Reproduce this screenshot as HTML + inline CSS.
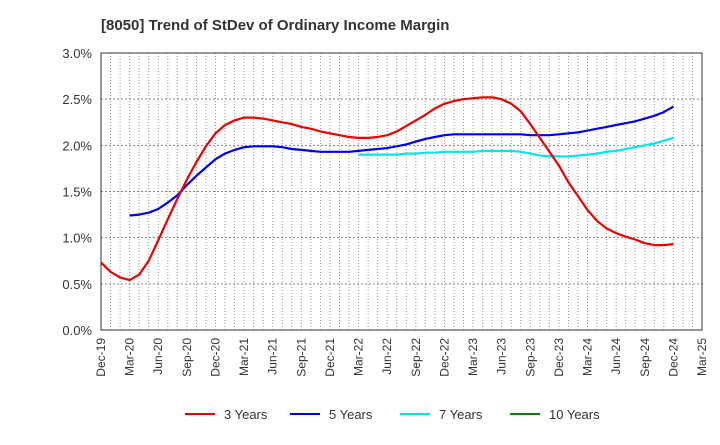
<!DOCTYPE html>
<html><head><meta charset="utf-8"><style>
body{margin:0;background:#fff;font-family:"Liberation Sans",sans-serif}
</style></head><body>
<svg id="c" width="720" height="440" xmlns="http://www.w3.org/2000/svg">
<text x="101" y="30" font-size="15" font-weight="bold" fill="#333">[8050]  Trend of StDev of Ordinary Income Margin</text>
</svg>
<script>
const xLabels=["Dec-19","Mar-20","Jun-20","Sep-20","Dec-20","Mar-21","Jun-21","Sep-21","Dec-21","Mar-22","Jun-22","Sep-22","Dec-22","Mar-23","Jun-23","Sep-23","Dec-23","Mar-24","Jun-24","Sep-24","Dec-24","Mar-25"];
const yTicks=[0,0.5,1.0,1.5,2.0,2.5,3.0];
const s3=[0.73,0.63,0.57,0.54,0.60,0.75,0.97,1.2,1.42,1.63,1.82,1.99,2.13,2.22,2.27,2.30,2.30,2.29,2.27,2.25,2.23,2.20,2.18,2.15,2.13,2.11,2.09,2.08,2.08,2.09,2.11,2.15,2.21,2.27,2.33,2.40,2.45,2.48,2.50,2.51,2.52,2.52,2.50,2.45,2.37,2.23,2.08,1.93,1.78,1.60,1.45,1.30,1.18,1.10,1.05,1.01,0.98,0.94,0.92,0.92,0.93];
const s5=[null,null,null,1.24,1.25,1.27,1.31,1.38,1.46,1.57,1.67,1.76,1.85,1.91,1.95,1.98,1.99,1.99,1.99,1.98,1.96,1.95,1.94,1.93,1.93,1.93,1.93,1.94,1.95,1.96,1.97,1.99,2.01,2.04,2.07,2.09,2.11,2.12,2.12,2.12,2.12,2.12,2.12,2.12,2.12,2.11,2.11,2.11,2.12,2.13,2.14,2.16,2.18,2.20,2.22,2.24,2.26,2.29,2.32,2.36,2.42];
const s7=[null,null,null,null,null,null,null,null,null,null,null,null,null,null,null,null,null,null,null,null,null,null,null,null,null,null,null,1.90,1.90,1.90,1.90,1.90,1.91,1.91,1.92,1.92,1.93,1.93,1.93,1.93,1.94,1.94,1.94,1.94,1.93,1.91,1.89,1.88,1.88,1.88,1.89,1.90,1.91,1.93,1.94,1.96,1.98,2.00,2.02,2.05,2.08];
const s10=[];
const L=101,R=702,T=53,B=330;
const X=i=>L+i*(R-L)/63;
const Y=v=>B-(v/3)*(B-T);
const svg=document.getElementById('c');const NS="http://www.w3.org/2000/svg";
function mk(t,a,p){const e=document.createElementNS(NS,t);for(const k in a)e.setAttribute(k,a[k]);(p||svg).appendChild(e);return e;}
for(let m=1;m<63;m++){const g=mk('line',{x1:X(m),x2:X(m),y1:T,y2:B,stroke:'#999','stroke-dasharray':'1,2','stroke-width':1});

}
yTicks.forEach(v=>{if(v>0&&v<3){const g=mk('line',{x1:L,x2:R,y1:Y(v),y2:Y(v),stroke:'#888','stroke-dasharray':'2,2'});

}
const t=mk('text',{x:92,y:Y(v)+5,'text-anchor':'end','font-size':13,fill:'#333'});t.textContent=v.toFixed(1)+'%';

});
const fr=mk('rect',{x:L,y:T,width:R-L,height:B-T,fill:'none',stroke:'#333','stroke-width':1});


xLabels.forEach((s,i)=>{const x=X(i*3);const t=mk('text',{x:0,y:0,'text-anchor':'end','font-size':12,fill:'#333',transform:`translate(${x+4},338) rotate(-90)`});t.textContent=s;

});
function line(arr,col,name){let d='';arr.forEach((v,i)=>{if(v==null)return;d+=(d?'L':'M')+X(i).toFixed(1)+','+Y(v).toFixed(1);});
if(!d)return;const p=mk('path',{d:d,fill:'none',stroke:col,'stroke-width':2.2,'stroke-linejoin':'round'});

}
line(s7,'#00e5ee','series-7-years');line(s5,'#0000ee','series-5-years');line(s3,'#ee0000','series-3-years');line(s10,'#008000','series-10-years');
[["3 Years","#ee0000",185],["5 Years","#0000ee",290],["7 Years","#00e5ee",400],["10 Years","#008000",510]].forEach(l=>{
const g=mk('g',{});

mk('line',{x1:l[2],x2:l[2]+30,y1:414,y2:414,stroke:l[1],'stroke-width':2},g);
const t=mk('text',{x:l[2]+39,y:419,'font-size':13,fill:'#333'},g);t.textContent=l[0];});
</script>
</body></html>
